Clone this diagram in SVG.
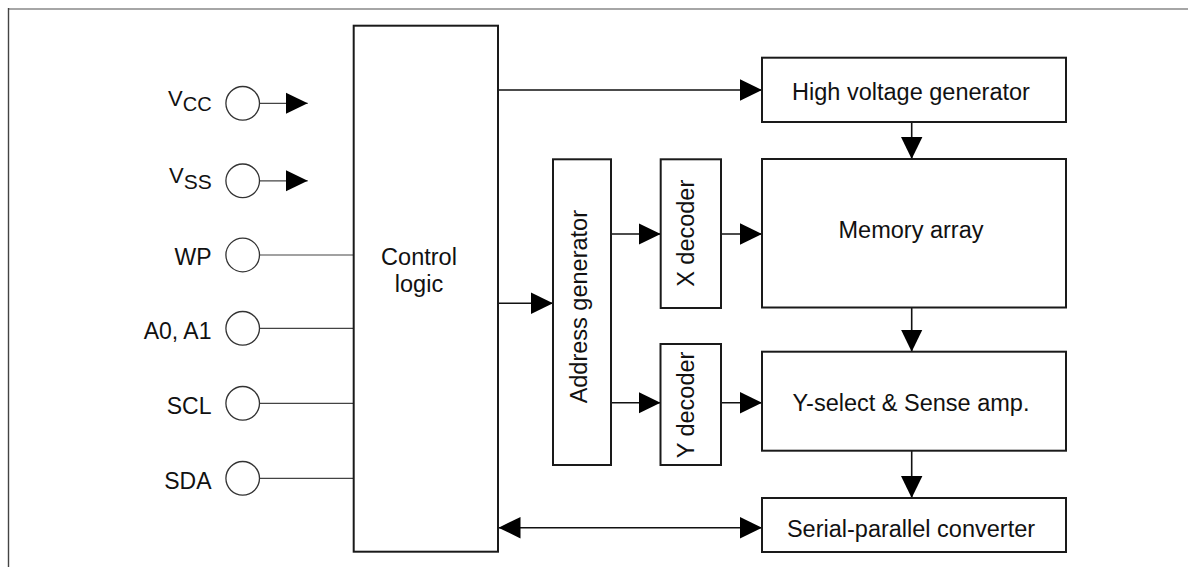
<svg xmlns="http://www.w3.org/2000/svg" width="1188" height="567" viewBox="0 0 1188 567">
<defs>
<marker id="arr" markerUnits="userSpaceOnUse" markerWidth="22" markerHeight="22" viewBox="0 0 22 21.4" refX="22" refY="10.7" orient="auto-start-reverse">
<path d="M0,0 L22,10.7 L0,21.4 Z" fill="#000"/>
</marker>
</defs>
<style>
.box{fill:#fff;stroke:#1a1a1a;stroke-width:2}
.pin{fill:#fff;stroke:#333;stroke-width:1.3}
.t{font-family:"Liberation Sans",Arial,sans-serif;font-size:23.5px;fill:#111}
.pl{font-family:"Liberation Sans",Arial,sans-serif;font-size:23px;fill:#111}
.c{fill:none;stroke:#111;stroke-width:1.6}
.pw{fill:none;stroke:#444;stroke-width:1.2}
</style>
<rect width="1188" height="567" fill="#fff"/>
<g id="frame">
<line x1="8" y1="9" x2="1188" y2="9" stroke="#888" stroke-width="1.6"/>
<line x1="8.5" y1="8" x2="8.5" y2="567" stroke="#444" stroke-width="1.4"/>
</g>
<g id="connectors">
<line class="pw" x1="259.5" y1="103.3" x2="307.7" y2="103.3" marker-end="url(#arr)"/>
<line class="pw" x1="259.5" y1="180.8" x2="307.7" y2="180.8" marker-end="url(#arr)"/>
<line class="pw" x1="259.5" y1="255" x2="353.7" y2="255"/>
<line class="pw" x1="259.5" y1="328.3" x2="353.7" y2="328.3"/>
<line class="pw" x1="259.5" y1="403.3" x2="353.7" y2="403.3"/>
<line class="pw" x1="259.5" y1="478.3" x2="353.7" y2="478.3"/>
<line class="c" x1="498" y1="90" x2="762" y2="90" marker-end="url(#arr)"/>
<line class="c" x1="911.7" y1="122" x2="911.7" y2="159" marker-end="url(#arr)"/>
<line class="c" x1="498" y1="303.3" x2="553" y2="303.3" marker-end="url(#arr)"/>
<line class="c" x1="611" y1="234" x2="660.7" y2="234" marker-end="url(#arr)"/>
<line class="c" x1="721" y1="234" x2="762" y2="234" marker-end="url(#arr)"/>
<line class="c" x1="911.7" y1="307.5" x2="911.7" y2="351.7" marker-end="url(#arr)"/>
<line class="c" x1="611" y1="402.7" x2="660.5" y2="402.7" marker-end="url(#arr)"/>
<line class="c" x1="721" y1="402.7" x2="762" y2="402.7" marker-end="url(#arr)"/>
<line class="c" x1="911.7" y1="450.7" x2="911.7" y2="498" marker-end="url(#arr)"/>
<line class="c" x1="498.5" y1="527.7" x2="762" y2="527.7" marker-start="url(#arr)" marker-end="url(#arr)"/>
</g>
<g id="pin-vcc">
<circle class="pin" cx="242.7" cy="103.3" r="16.8"/>
<text class="pl" x="211.7" y="106" text-anchor="end"><tspan font-size="22">V</tspan><tspan font-size="20" dy="5">CC</tspan></text>
</g>
<g id="pin-vss">
<circle class="pin" cx="242.7" cy="180.8" r="16.8"/>
<text class="pl" x="211.7" y="183.3" text-anchor="end"><tspan font-size="22">V</tspan><tspan font-size="21" dy="5.5">SS</tspan></text>
</g>
<g id="pin-wp">
<circle class="pin" cx="242.7" cy="255" r="16.8"/>
<text class="pl" x="211.5" y="265" text-anchor="end">WP</text>
</g>
<g id="pin-a0a1">
<circle class="pin" cx="242.7" cy="328.3" r="16.8"/>
<text class="pl" x="211.5" y="338.5" text-anchor="end">A0, A1</text>
</g>
<g id="pin-scl">
<circle class="pin" cx="242.7" cy="403.3" r="16.8"/>
<text class="pl" x="211.5" y="413.5" text-anchor="end">SCL</text>
</g>
<g id="pin-sda">
<circle class="pin" cx="242.7" cy="478.3" r="16.8"/>
<text class="pl" x="211.5" y="488.5" text-anchor="end">SDA</text>
</g>
<g id="control-logic">
<rect class="box" x="353.7" y="25.7" width="144.3" height="526"/>
<text class="t" x="419" y="265" text-anchor="middle">Control</text>
<text class="t" x="419" y="291.7" text-anchor="middle">logic</text>
</g>
<g id="high-voltage-generator">
<rect class="box" x="762" y="57.7" width="304" height="64.3"/>
<text class="t" x="911" y="100" text-anchor="middle">High voltage generator</text>
</g>
<g id="memory-array">
<rect class="box" x="762" y="159" width="304" height="148.5"/>
<text class="t" x="911" y="238.3" text-anchor="middle">Memory array</text>
</g>
<g id="address-generator">
<rect class="box" x="553" y="159.3" width="58" height="305.7"/>
<text class="t" transform="translate(587,306.7) rotate(-90)" text-anchor="middle">Address generator</text>
</g>
<g id="x-decoder">
<rect class="box" x="660.7" y="159.3" width="60.3" height="148.7"/>
<text class="t" transform="translate(693.5,233.3) rotate(-90)" text-anchor="middle">X decoder</text>
</g>
<g id="y-decoder">
<rect class="box" x="660.5" y="344" width="60.5" height="121"/>
<text class="t" transform="translate(693.5,405) rotate(-90)" text-anchor="middle">Y decoder</text>
</g>
<g id="y-select">
<rect class="box" x="762" y="351.7" width="304" height="99"/>
<text class="t" x="911" y="410.7" text-anchor="middle">Y-select &amp; Sense amp.</text>
</g>
<g id="serial-parallel-converter">
<rect class="box" x="762" y="498" width="304" height="54"/>
<text class="t" x="911" y="537.3" text-anchor="middle">Serial-parallel converter</text>
</g>
</svg>
